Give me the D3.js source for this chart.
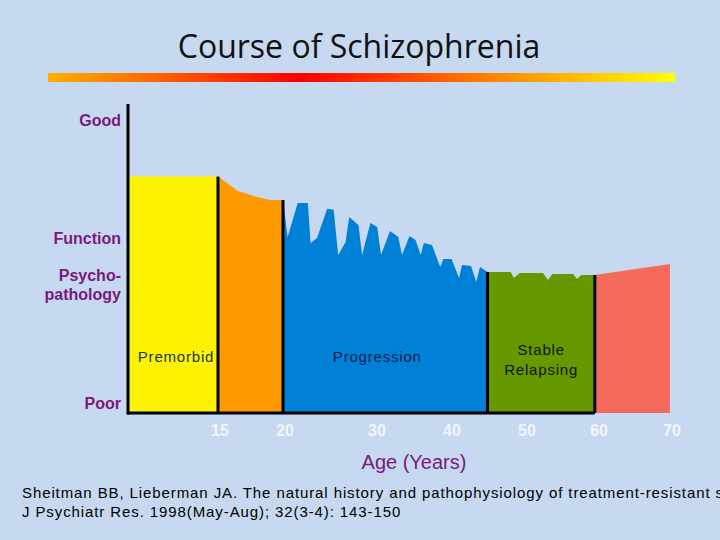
<!DOCTYPE html>
<html><head><meta charset="utf-8">
<script src="https://cdn.jsdelivr.net/npm/d3@7"></script>
<style>body{margin:0;background:#c6d9f0;}svg{display:block;}</style>
</head><body>
<svg id="c" width="720" height="540"></svg>
<script>
const tickAges = [15, 20, 30, 40, 50, 60, 70];
const yLabels = [["Good", 100], ["Function", 58], ["Psycho-", 45.2], ["pathology", 38.2], ["Poor", 0]];
const premorbid = [[0, 80], [15, 80]];
const prodrome = [[15, 80], [16.5, 75], [18, 72.8], [19, 71.7], [20, 71.7]];
const progression = [[20, 71.7], [20.5, 58.7], [21.6, 70.7], [22.7, 70.7], [23.0, 56.5], [23.7, 58.3], [24.8, 68.6], [25.5, 68.3], [26.0, 52.3], [26.8, 56.9], [27.2, 65.7], [28.2, 62.9], [28.6, 52.3], [29.5, 63.6], [30.3, 62.2], [30.8, 52.3], [32.0, 60.8], [33.1, 58.7], [33.6, 52.3], [34.6, 59.0], [35.4, 57.6], [36.1, 52.3], [36.5, 56.5], [37.6, 55.8], [38.7, 48.1], [39.1, 50.9], [40.2, 50.9], [41.2, 44.2], [41.6, 48.8], [42.8, 48.4], [43.5, 42.8], [44.0, 48.1], [45.0, 46.3]];
const stable = [[45.0, 46.3], [48.1, 46.3], [48.5, 44.2], [49.3, 45.9], [52.5, 45.9], [53.2, 43.5], [53.8, 45.6], [56.7, 45.6], [57.2, 43.8], [57.8, 45.2], [59.7, 45.2]];
const late = [[59.7, 45.2], [70, 49.1]];
const stages = [
  {pts: premorbid, color: "#fff200"},
  {pts: prodrome, color: "#ff9900"},
  {pts: progression, color: "#0080d6"},
  {pts: stable, color: "#669900"},
  {pts: late, color: "#f56a5a"}
];
const boundaries = [15, 20, 45, 59.7];
const base = -3.5;

const svg = d3.select("#c");
const x = d3.scaleLinear().domain([0, 15, 20, 30, 40, 50, 60, 70]).range([130, 218, 283, 375, 450, 525, 597, 670]);
const y = d3.scaleLinear().domain([0, 100]).range([403, 120]);

svg.append("text").attr("x", 359).attr("y", 58).attr("text-anchor", "middle")
  .attr("font-family", "Open Sans, sans-serif").attr("font-size", 32).attr("fill", "#111").text("Course of Schizophrenia");
const g = svg.append("defs").append("linearGradient").attr("id", "gr");
[["0%", "#ffb000"], ["40%", "#ff0000"], ["100%", "#ffff00"]].forEach(s => g.append("stop").attr("offset", s[0]).attr("stop-color", s[1]));
svg.append("rect").attr("x", 48).attr("y", 73).attr("width", 627).attr("height", 9).attr("fill", "url(#gr)");

const area = d3.area().x(d => x(d[0])).y0(y(base)).y1(d => y(d[1]));
stages.forEach(s => svg.append("path").attr("d", area(s.pts)).attr("fill", s.color));

boundaries.forEach((b, i) => {
  const top = stages[i].pts[stages[i].pts.length - 1][1];
  svg.append("line").attr("x1", x(b)).attr("x2", x(b)).attr("y1", y(top)).attr("y2", y(base))
    .attr("stroke", "#000").attr("stroke-width", 3);
});
svg.append("line").attr("x1", 128).attr("x2", 128).attr("y1", 104).attr("y2", y(base) + 1.5).attr("stroke", "#000").attr("stroke-width", 3);
svg.append("line").attr("x1", 127).attr("x2", x(59.7)).attr("y1", y(base)).attr("y2", y(base)).attr("stroke", "#000").attr("stroke-width", 3);

yLabels.forEach(l => svg.append("text").attr("x", 121).attr("y", y(l[1])).attr("dy", "0.35em").attr("text-anchor", "end")
  .attr("font-family", "Liberation Sans, Arial, sans-serif").attr("font-weight", "bold").attr("font-size", 16).attr("fill", "#7a1a7e").text(l[0]));

tickAges.forEach(t => svg.append("text").attr("x", x(t) + 2).attr("y", 430).attr("dy", "0.35em").attr("text-anchor", "middle")
  .attr("font-family", "Liberation Sans, Arial, sans-serif").attr("font-weight", "bold").attr("font-size", 16).attr("fill", "#f4f6fa").text(t));
svg.append("text").attr("x", 414).attr("y", 462).attr("dy", "0.35em").attr("text-anchor", "middle")
  .attr("font-family", "Liberation Sans, Arial, sans-serif").attr("font-size", 20).attr("fill", "#7a1a7e").text("Age (Years)");

const lab = (t, xv, yv, c) => svg.append("text").attr("x", xv).attr("y", yv).attr("dy", "0.35em").attr("text-anchor", "middle")
  .attr("font-family", "Liberation Sans, Arial, sans-serif").attr("font-size", 15).attr("letter-spacing", 0.8).attr("fill", c).text(t);
lab("Premorbid", x(7.5) + 2, 357, "#123a3a");
lab("Progression", x(30.3), 357, "#0a1e50");
lab("Stable", (x(45) + x(59.7)) / 2, 350, "#111");
lab("Relapsing", (x(45) + x(59.7)) / 2, 370, "#111");

const cit = ["Sheitman BB, Lieberman JA. The natural history and pathophysiology of treatment-resistant schizophrenia.", "J Psychiatr Res. 1998(May-Aug); 32(3-4): 143-150"];
cit.forEach((c, i) => svg.append("text").attr("x", 22).attr("y", 493 + i * 19).attr("dy", "0.35em")
  .attr("font-family", "Liberation Sans, Arial, sans-serif").attr("font-size", 15).attr("letter-spacing", 0.9).attr("fill", "#000").text(c));
</script>
</body></html>
